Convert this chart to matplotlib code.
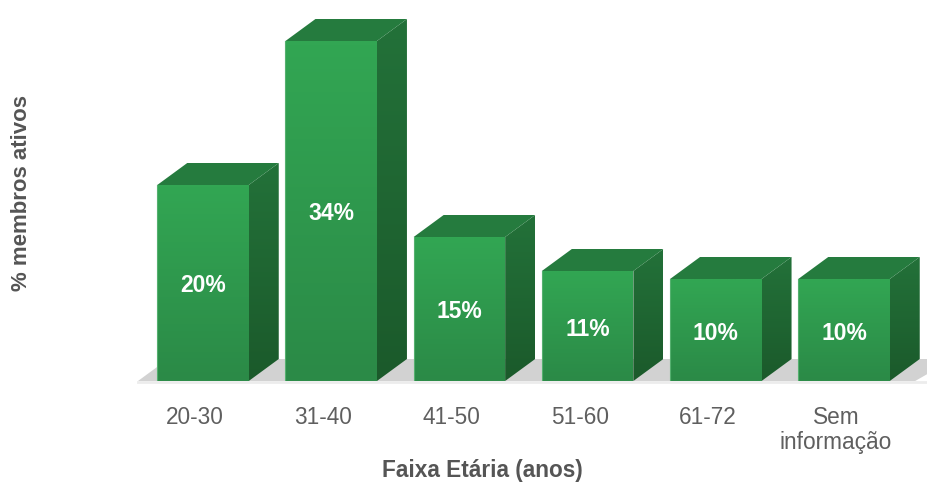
import matplotlib
matplotlib.use('Agg')
import matplotlib.pyplot as plt
import numpy as np
from matplotlib.patches import Polygon
from matplotlib.colors import LinearSegmentedColormap

#data
####
categories = ['20-30', '31-40', '41-50', '51-60', '61-72', 'Sem\ninformação']
heights = [19.6, 34.0, 14.4, 11.0, 10.2, 10.2]
labels = ['20%', '34%', '15%', '11%', '10%', '10%']

plt.rcParams['font.family'] = ['Liberation Sans', 'DejaVu Sans']

W, H = 928, 483
PITCH = 128.2    # px per category
PCT = 10.0       # px per percent
BASE = 381       # baseline px from top
X0 = 203         # px centre of first bar
width = 91.5 / PITCH
dx = 30 / PITCH
dy = 22 / PCT

fig = plt.figure(figsize=(W / 100, H / 100), dpi=100)
ax = fig.add_axes([0, (H - BASE) / H, 1, BASE / H])
xlim = (-X0 / PITCH, (W - X0) / PITCH)
ylim = (0, BASE / PCT)

front_cm = LinearSegmentedColormap.from_list('front', ['#2b8a47', '#32a653'])
side_cm = LinearSegmentedColormap.from_list('side', ['#1b5a2b', '#237139'])
top_col = '#257b3e'


def fill(patch, cm, extent, grad, z):
    ax.add_patch(patch)
    im = ax.imshow(grad, cmap=cm, extent=extent, aspect='auto', origin='lower',
                   vmin=0, vmax=1, zorder=z, interpolation='bilinear')
    im.set_clip_path(patch)


# floor shadow
floor = Polygon([(xlim[0] + 138 / PITCH, 0), (xlim[0] + 168 / PITCH, dy),
                 (xlim[1] + 0.2, dy), (xlim[1] - 0.1, 0)],
                closed=True, fc='#d2d2d2', ec='none', zorder=1)
ax.add_patch(floor)
ax.plot([xlim[0] + 138 / PITCH, xlim[1]], [-0.1, -0.1], color='#ececec', lw=2,
        zorder=1, clip_on=False)

xs = np.arange(len(categories))
bars = ax.bar(xs, heights, width=width, color='#2f9a4e', edgecolor='none', zorder=3)
v = np.linspace(0, 1, 64).reshape(-1, 1)
for x, h, b, lab in zip(xs, heights, bars, labels):
    l, r = x - width / 2, x + width / 2
    fill(Polygon([(l, 0), (r, 0), (r, h), (l, h)], closed=True, fc='none', ec='none', zorder=3),
         front_cm, (l, r, 0, h), v, 4)
    side = Polygon([(r, 0), (r + dx, dy), (r + dx, h + dy), (r, h)], closed=True,
                   fc='none', ec='none', zorder=3)
    fill(side, side_cm, (r, r + dx, 0, h + dy), v, 4)
    ax.add_patch(Polygon([(l, h), (r, h), (r + dx, h + dy), (l + dx, h + dy)], closed=True,
                         fc=top_col, ec='none', zorder=4))
    ax.plot([l, l, r], [h, 0, 0], color='#55b06f', lw=0.8, zorder=5)
    ax.text(x, h / 2 - 0.3, lab, color='white', fontsize=16.5, fontweight='bold',
            ha='center', va='center', zorder=6)

ax.set_xlim(xlim)
ax.set_ylim(ylim)
ax.patch.set_visible(False)
for s in ax.spines.values():
    s.set_visible(False)
ax.set_yticks([])
ax.set_xticks(xs - 8 / PITCH)
ax.set_xticklabels(categories, fontsize=16.3, color='#5f5f5f', linespacing=1.12)
ax.tick_params(axis='x', length=0, pad=18)

fig.text(482 / W, 1 - 471 / H, 'Faixa Etária (anos)', fontsize=16.3, fontweight='bold',
         color='#555555', ha='center', va='center')
fig.text(22 / W, 1 - 193 / H, '% membros ativos', fontsize=16, fontweight='bold',
         color='#555555', ha='center', va='center', rotation=90)

fig.savefig('out.png', dpi=100, facecolor='white')
